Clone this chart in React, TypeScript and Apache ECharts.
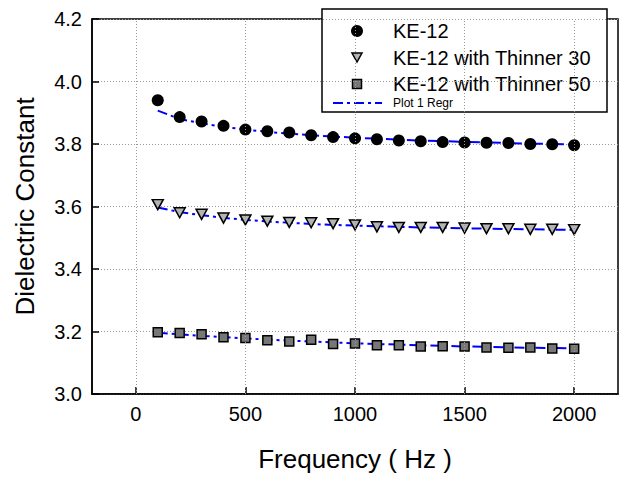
import React, { useEffect, useRef } from "react";
import * as echarts from "echarts";

const frequencies = [100, 200, 300, 400, 500, 600, 700, 800, 900, 1000, 1100, 1200, 1300, 1400, 1500, 1600, 1700, 1800, 1900, 2000];

const ke12 = [3.940, 3.886, 3.872, 3.858, 3.846, 3.841, 3.837, 3.828, 3.822, 3.818, 3.815, 3.811, 3.809, 3.806, 3.805, 3.804, 3.803, 3.800, 3.799, 3.796];
const thinner30 = [3.606, 3.580, 3.575, 3.563, 3.557, 3.553, 3.549, 3.548, 3.545, 3.541, 3.535, 3.533, 3.533, 3.533, 3.531, 3.529, 3.529, 3.527, 3.527, 3.526];
const thinner50 = [3.198, 3.195, 3.191, 3.182, 3.179, 3.172, 3.168, 3.174, 3.160, 3.162, 3.156, 3.156, 3.152, 3.153, 3.152, 3.149, 3.148, 3.149, 3.146, 3.145];

const fitKe12 = [3.907, 3.880, 3.866, 3.855, 3.846, 3.839, 3.833, 3.828, 3.824, 3.820, 3.817, 3.814, 3.811, 3.809, 3.807, 3.805, 3.803, 3.801, 3.800, 3.798];
const fitThinner30 = [3.597, 3.582, 3.572, 3.564, 3.557, 3.552, 3.548, 3.544, 3.541, 3.539, 3.537, 3.535, 3.533, 3.532, 3.530, 3.529, 3.528, 3.527, 3.526, 3.525];
const fitThinner50 = [3.196, 3.191, 3.186, 3.182, 3.178, 3.174, 3.171, 3.168, 3.165, 3.162, 3.160, 3.158, 3.156, 3.154, 3.152, 3.151, 3.149, 3.148, 3.147, 3.146];

const xTicks = [0, 500, 1000, 1500, 2000];
const seriesNames = ["KE-12", "KE-12 with Thinner 30", "KE-12 with Thinner 50"];
const fitName = "Plot 1 Regr";

const FONT = "'Liberation Sans', Arial, sans-serif";
const pairs = (ys: number[]) => frequencies.map((f, i) => [f, ys[i]]);

export default function App() {
  const ref = useRef<HTMLDivElement>(null);
  useEffect(() => {
    if (!ref.current) return;
    const chart = echarts.init(ref.current, null, { renderer: "svg" });
    const dash = [10, 4, 3, 4];
    const fitSeries: any[] = [fitKe12, fitThinner30, fitThinner50].map((d) => ({
      name: fitName,
      type: "line",
      data: pairs(d),
      symbol: "none",
      z: 2,
      lineStyle: { color: "#0000ff", width: 2, type: dash },
    }));
    // vertical dotted grid lines at the labelled x values
    const gridSeries: any = {
      name: "xgrid",
      type: "line",
      data: [],
      z: 1,
      silent: true,
      markLine: {
        silent: true,
        symbol: "none",
        label: { show: false },
        lineStyle: { color: "#999", width: 1, type: [1, 2] },
        data: xTicks.map((v) => ({ xAxis: v })),
      },
    };
    const option: any = {
      animation: false,
      backgroundColor: "#ffffff",
      textStyle: { fontFamily: FONT },
      grid: {
        left: 92,
        right: 6,
        top: 19,
        bottom: 78,
        show: true,
        borderColor: "#000",
        borderWidth: 1.5,
        backgroundColor: "transparent",
      },
      xAxis: {
        type: "value",
        min: -200,
        max: 2200,
        name: "Frequency ( Hz )",
        nameLocation: "middle",
        nameGap: 52,
        nameTextStyle: { fontSize: 26, color: "#000", fontFamily: FONT },
        axisLine: { show: true, onZero: false, lineStyle: { color: "#000", width: 1.5 } },
        axisTick: { show: true, inside: true, length: 7, customValues: xTicks, lineStyle: { color: "#000", width: 1.5 } },
        axisLabel: {
          customValues: xTicks,
          fontSize: 20,
          color: "#000",
          margin: 10,
          fontFamily: FONT,
          formatter: (v: number) => String(v),
        },
        splitLine: { show: false },
      },
      yAxis: {
        type: "value",
        min: 3.0,
        max: 4.2,
        interval: 0.2,
        name: "Dielectric Constant",
        nameLocation: "middle",
        nameGap: 54,
        nameTextStyle: { fontSize: 26, color: "#000", fontFamily: FONT },
        axisLine: { show: true, onZero: false, lineStyle: { color: "#000", width: 1.5 } },
        axisTick: { show: true, inside: true, length: 7, lineStyle: { color: "#000", width: 1.5 } },
        axisLabel: { fontSize: 20, color: "#000", margin: 10, fontFamily: FONT, formatter: (v: number) => v.toFixed(1) },
        splitLine: { show: true, lineStyle: { color: "#999", width: 1, type: [1, 2] } },
      },
      series: [
        gridSeries,
        ...fitSeries,
        {
          name: seriesNames[0],
          type: "scatter",
          data: pairs(ke12),
          symbol: "circle",
          symbolSize: 12,
          z: 3,
          itemStyle: { color: "#000", opacity: 1 },
        },
        {
          name: seriesNames[1],
          type: "scatter",
          data: pairs(thinner30),
          symbol: "triangle",
          symbolRotate: 180,
          symbolSize: [11, 10],
          z: 3,
          itemStyle: { color: "#b4b4b4", borderColor: "#000", borderWidth: 1.5, opacity: 1 },
        },
        {
          name: seriesNames[2],
          type: "scatter",
          data: pairs(thinner50),
          symbol: "rect",
          symbolSize: 9,
          z: 3,
          itemStyle: { color: "#777", borderColor: "#000", borderWidth: 1.5, opacity: 1 },
        },
      ],
      graphic: [
        {
          type: "group",
          z: 100,
          children: [
            { type: "rect", shape: { x: 322, y: 9, width: 285, height: 103 }, style: { fill: "#fff", stroke: "#000", lineWidth: 1.5 } },
            { type: "circle", shape: { cx: 357, cy: 31, r: 6 }, style: { fill: "#000" } },
            { type: "text", x: 393, y: 31, style: { text: seriesNames[0], fontSize: 20, fontFamily: FONT, fill: "#000", verticalAlign: "middle" } },
            { type: "polygon", shape: { points: [[352, 53], [362, 53], [357, 62]] }, style: { fill: "#b4b4b4", stroke: "#000", lineWidth: 1.5 } },
            { type: "text", x: 393, y: 58, style: { text: seriesNames[1], fontSize: 20, fontFamily: FONT, fill: "#000", verticalAlign: "middle" } },
            { type: "rect", shape: { x: 352.5, y: 79.5, width: 9, height: 9 }, style: { fill: "#777", stroke: "#000", lineWidth: 1.5 } },
            { type: "text", x: 393, y: 84, style: { text: seriesNames[2], fontSize: 20, fontFamily: FONT, fill: "#000", verticalAlign: "middle" } },
            { type: "line", shape: { x1: 333, y1: 103, x2: 382, y2: 103 }, style: { stroke: "#0000ff", lineWidth: 2, lineDash: dash } },
            { type: "text", x: 393, y: 103, style: { text: fitName, fontSize: 12, fontFamily: FONT, fill: "#000", verticalAlign: "middle" } },
          ],
        },
      ],
    };
    chart.setOption(option);
    return () => chart.dispose();
  }, []);
  return (
    <div
      ref={ref}
      style={{ position: "fixed", left: 0, top: 0, width: 624, height: 477, background: "#fff" }}
    />
  );
}
